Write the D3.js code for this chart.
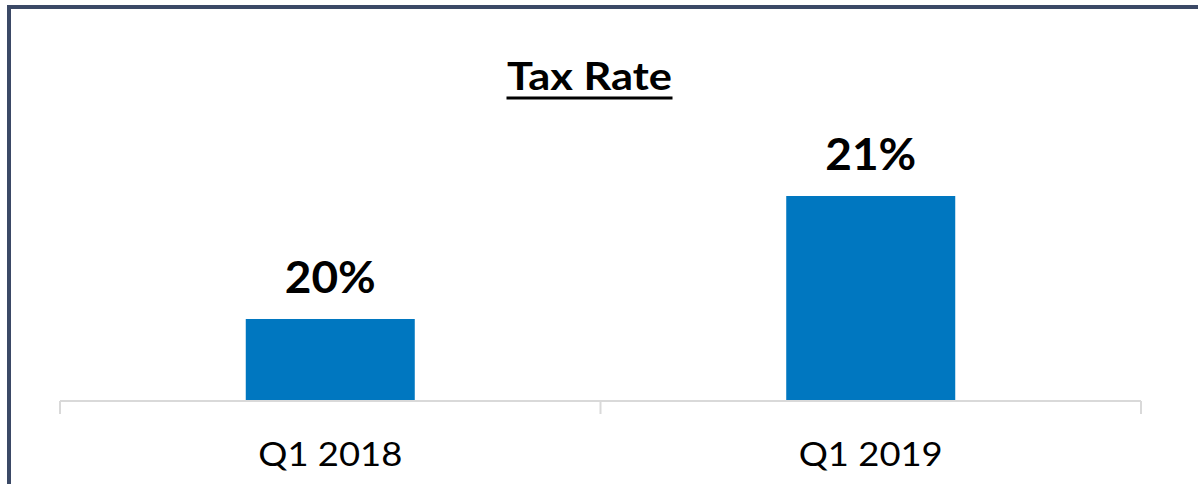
<!DOCTYPE html>
<html>
<head>
<meta charset="utf-8">
<script src="https://cdn.jsdelivr.net/npm/d3@7"></script>
<style>
  html, body { margin: 0; padding: 0; background: #fff; }
  svg { display: block; }
  text { font-family: Lato, "Open Sans", sans-serif; fill: #000; }
</style>
</head>
<body>
<svg id="chart" width="1198" height="484"></svg>
<script>
// data
const categories = ["Q1 2018", "Q1 2019"];
const taxRate = [20, 21];
const valueLabels = ["20%", "21%"];
const chartTitle = "Tax Rate";

const width = 1198, height = 484;
const svg = d3.select("#chart");

// frame (only left and top edges show in the crop)
svg.append("line")
    .attr("x1", 9).attr("x2", 9)
    .attr("y1", 5).attr("y2", height)
    .attr("stroke", "#3b4966").attr("stroke-width", 4);
svg.append("line")
    .attr("x1", 7).attr("x2", width)
    .attr("y1", 7).attr("y2", 7)
    .attr("stroke", "#3b4966").attr("stroke-width", 4);

const x = d3.scaleBand()
    .domain(categories)
    .range([60, 1141])
    .paddingInner(0.6873)
    .paddingOuter(0.3437);

// value axis starts above zero, like the original
const y = d3.scaleLinear()
    .domain([19.3333, 22])
    .range([401, 73]);

// bars
svg.selectAll("rect.bar")
    .data(taxRate)
    .join("rect")
    .attr("class", "bar")
    .attr("x", (d, i) => x(categories[i]))
    .attr("y", d => y(d))
    .attr("width", x.bandwidth())
    .attr("height", d => y.range()[0] - y(d))
    .attr("fill", "#0077c0");

// value labels
svg.selectAll("text.val")
    .data(taxRate)
    .join("text")
    .attr("class", "val")
    .attr("x", (d, i) => x(categories[i]) + x.bandwidth() / 2)
    .attr("y", d => y(d) - 26)
    .attr("text-anchor", "middle")
    .attr("font-size", 44)
    .attr("font-weight", "bold")
    .attr("textLength", 91)
    .attr("lengthAdjust", "spacingAndGlyphs")
    .text((d, i) => valueLabels[i]);

// category axis
const bounds = categories.map(c => x(c) - x.step() * x.paddingInner() / 2)
    .concat([x.range()[1]]);
bounds[0] = x.range()[0];
const axisY = y.range()[0];
svg.append("line")
    .attr("x1", x.range()[0]).attr("x2", x.range()[1])
    .attr("y1", axisY).attr("y2", axisY)
    .attr("stroke", "#d9d9d9").attr("stroke-width", 2);
svg.selectAll("line.tick")
    .data(bounds)
    .join("line")
    .attr("class", "tick")
    .attr("x1", d => d).attr("x2", d => d)
    .attr("y1", axisY).attr("y2", axisY + 13)
    .attr("stroke", "#d9d9d9").attr("stroke-width", 2);

svg.selectAll("text.cat")
    .data(categories)
    .join("text")
    .attr("class", "cat")
    .attr("x", d => x(d) + x.bandwidth() / 2)
    .attr("y", 466)
    .attr("text-anchor", "middle")
    .attr("font-size", 32)
    .attr("textLength", 144)
    .attr("lengthAdjust", "spacingAndGlyphs")
    .text(d => d);

// title with underline
const title = svg.append("text")
    .attr("x", 589.5)
    .attr("y", 90)
    .attr("text-anchor", "middle")
    .attr("font-size", 39)
    .attr("font-weight", "bold")
    .attr("textLength", 165)
    .attr("lengthAdjust", "spacingAndGlyphs")
    .text(chartTitle);
svg.append("line")
    .attr("x1", 589.5 - 83).attr("x2", 589.5 + 83)
    .attr("y1", 98).attr("y2", 98)
    .attr("stroke", "#000").attr("stroke-width", 3);
</script>
</body>
</html>
